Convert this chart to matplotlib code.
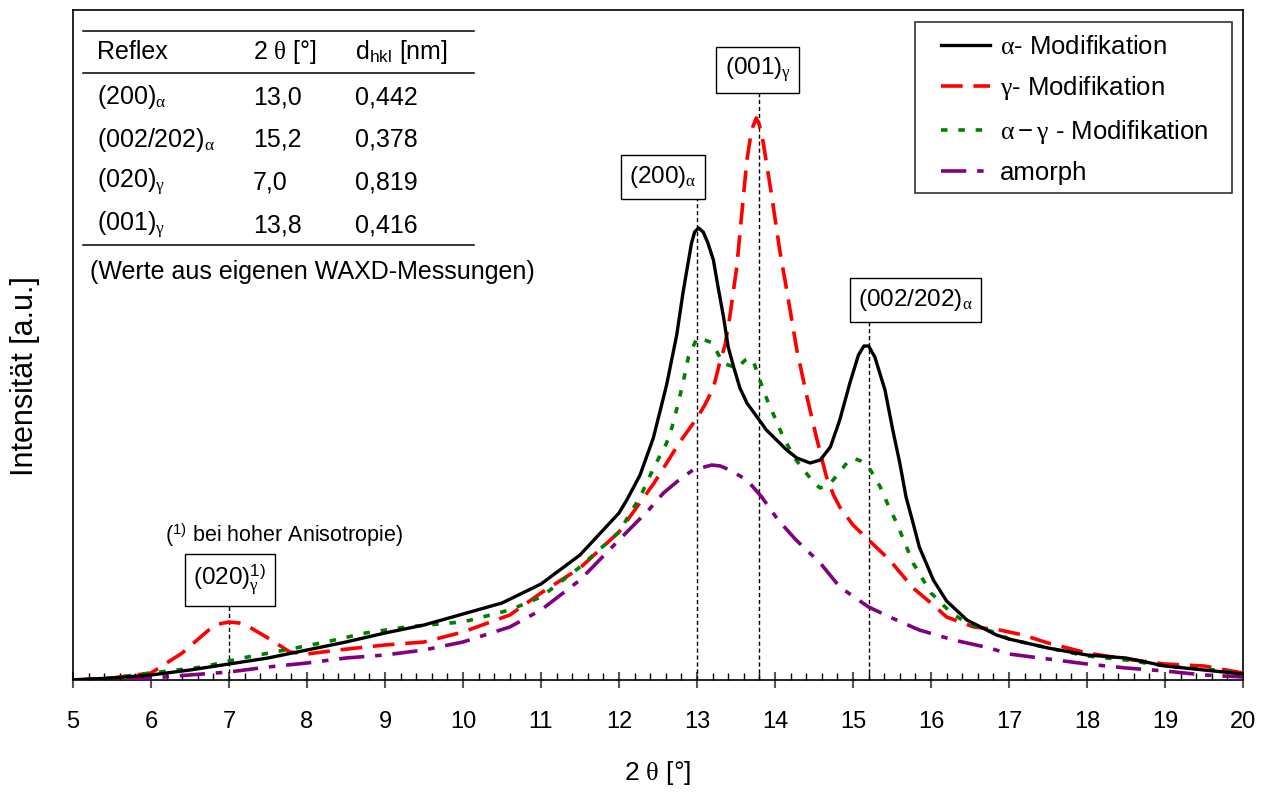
import numpy as np
import matplotlib.pyplot as plt
from matplotlib.ticker import MultipleLocator
from matplotlib.patches import Rectangle

plt.rcParams['font.family'] = ['Liberation Sans', 'DejaVu Sans']
plt.rcParams['mathtext.fontset'] = 'custom'
plt.rcParams['mathtext.rm'] = 'Liberation Sans'
plt.rcParams['mathtext.it'] = 'Liberation Serif'
plt.rcParams['mathtext.default'] = 'it'

# Kurven (2 theta, Intensitaet a.u.)
alpha_x = [5.0, 5.5, 6.0, 6.5, 7.0, 7.5, 8.0, 8.5, 9.0, 9.5, 10.0, 10.5, 11.0, 11.5,
           12.0, 12.1, 12.27, 12.44, 12.61, 12.74, 12.82, 12.87, 12.93, 12.97, 13.02,
           13.08, 13.14, 13.21, 13.27, 13.34, 13.4, 13.47, 13.55, 13.64, 13.77, 13.89,
           14.02, 14.15, 14.28, 14.45, 14.58, 14.71, 14.83, 14.96, 15.07, 15.14, 15.2,
           15.28, 15.41, 15.51, 15.6, 15.68, 15.77, 15.85, 16.03, 16.2, 16.46, 16.84,
           17.0, 17.5, 18.0, 18.5, 19.0, 19.5, 20.0]
alpha_y = [0, 2, 5, 10, 16, 22, 30, 38, 47, 55, 66, 77, 96, 125,
           167, 180, 205, 242, 295, 345, 387, 410, 437, 448, 452,
           448, 437, 420, 393, 363, 333, 313, 292, 277, 263, 250,
           240, 230, 222, 217, 220, 233, 260, 297, 325, 334, 334,
           323, 290, 250, 217, 183, 157, 133, 100, 79, 60, 45,
           41, 32, 25, 22, 14, 10, 6]

gamma_x = [5.0, 5.5, 6.0, 6.4, 6.74, 6.87, 7.0, 7.13, 7.26, 7.5, 7.78, 8.0, 8.4, 9.0,
           9.5, 10.0, 10.6, 11.0, 11.5, 12.0, 12.45, 12.78, 13.0, 13.1, 13.21, 13.29,
           13.36, 13.42, 13.51, 13.57, 13.64, 13.7, 13.76, 13.8, 13.85, 13.96, 14.06,
           14.15, 14.28, 14.41, 14.53, 14.66, 14.75, 14.83, 15.0, 15.2, 15.47, 15.77,
           16.0, 16.2, 16.55, 16.88, 17.18, 17.5, 18.0, 18.5, 19.0, 19.5, 20.0]
gamma_y = [0, 2, 7, 27, 50, 56, 58, 57, 53, 42, 28, 26, 30, 35,
           38, 48, 65, 87, 112, 148, 197, 238, 262, 275, 292, 317,
           335, 363, 413, 463, 520, 550, 562, 555, 537, 483, 430,
           390, 330, 283, 243, 203, 185, 173, 155, 140, 120, 92,
           77, 63, 53, 50, 45, 37, 27, 21, 16, 14, 7]

ag_x = [5.0, 5.5, 6.0, 6.66, 7.17, 7.72, 8.24, 8.75, 9.27, 9.83, 10.0, 10.6, 11.0, 11.5,
        12.0, 12.27, 12.45, 12.61, 12.68, 12.76, 12.82, 12.89, 13.0, 13.1, 13.2, 13.33,
        13.51, 13.62, 13.68, 13.74, 13.79, 13.9, 14.0, 14.11, 14.27, 14.4, 14.5, 14.58,
        14.7, 14.8, 14.93, 15.0, 15.1, 15.2, 15.35, 15.45, 15.56, 15.77, 16.0, 16.26,
        16.5, 16.8, 17.0, 17.5, 18.0, 18.5, 19.0, 19.5, 20.0]
ag_y = [0, 2, 7, 13, 22, 30, 38, 47, 53, 57, 58, 70, 83, 113,
        148, 183, 213, 237, 253, 277, 297, 323, 342, 340, 337, 317,
        312, 320, 322, 315, 303, 280, 262, 242, 220, 207, 197, 192,
        196, 205, 218, 222, 219, 213, 193, 175, 157, 117, 87, 67,
        55, 48, 41, 32, 24, 20, 14, 11, 7]

amorph_x = [5.0, 6.0, 6.66, 7.0, 7.5, 8.0, 8.5, 9.0, 9.5, 10.0, 10.6, 11.0, 11.5, 12.0,
            12.38, 12.57, 12.8, 12.95, 13.19, 13.3, 13.42, 13.64, 13.83, 14.04, 14.27,
            14.58, 14.83, 15.2, 15.47, 15.85, 16.29, 16.75, 17.0, 17.5, 18.0, 18.5, 19.0,
            19.5, 20.0]
amorph_y = [0, 2, 6, 8, 13, 17, 22, 25, 30, 38, 53, 70, 100, 140,
            170, 187, 202, 210, 215, 214, 210, 200, 183, 160, 140,
            117, 93, 73, 63, 50, 40, 32, 26, 21, 16, 12, 9,
            5, 3]

# Tabelle
reflexe = ['(200)$_{\\alpha}$', '(002/202)$_{\\alpha}$', '(020)$_{\\gamma}$', '(001)$_{\\gamma}$']
two_theta = [13.0, 15.2, 7.0, 13.8]
d_hkl = [0.442, 0.378, 0.819, 0.416]

W, H = 1267, 794
fig = plt.figure(figsize=(W / 100, H / 100), dpi=100)
ax = fig.add_axes([73 / W, 1 - 680 / H, 1170 / W, 670 / H])

def px(x, y):
    return x / W, 1 - y / H

ax.plot(alpha_x, alpha_y, color='black', lw=2.4, label='$\\alpha$- Modifikation', zorder=5)
ax.plot(gamma_x, gamma_y, color='#ff0000', lw=2.6, dashes=(6, 3), label='$\\gamma$- Modifikation', zorder=4)
ax.plot(ag_x, ag_y, color='#008000', lw=2.6, dashes=(1.8, 3), label='$\\alpha - \\gamma$ - Modifikation', zorder=4)
ax.plot(amorph_x, amorph_y, color='#800080', lw=2.6, dashes=(7, 3, 1.8, 3), label='amorph', zorder=3)

ax.set_xlim(5, 20)
ax.set_ylim(0, 670)
ax.set_yticks([])
ax.xaxis.set_major_locator(MultipleLocator(1))
ax.xaxis.set_minor_locator(MultipleLocator(0.2))
ax.tick_params(axis='x', which='major', direction='inout', length=12, width=1.5,
               color='#555555', labelsize=17, pad=16)
ax.tick_params(axis='x', which='minor', direction='in', length=5, width=1, color='black')
for s in ax.spines.values():
    s.set_linewidth(1.2)

ax.set_xlabel('2 $\\theta$ [°]', fontsize=19, labelpad=19)
ax.set_ylabel('Intensität [a.u.]', fontsize=22)
ax.yaxis.set_label_coords(-0.028, 0.454)

# Markierung der Reflexe
boxes = {
    '(200)$_{\\alpha}$': (12.56, 503, 481, 13.0),
    '(001)$_{\\gamma}$': (13.78, 610, 587, 13.8),
    '(002/202)$_{\\alpha}$': (15.8, 380, 358, 15.2),
    '(020)$_{\\gamma}^{1)}$': (7.01, 100, 79, 7.0),
}
for txt, (tx, ty, top, pos) in boxes.items():
    ax.plot([pos, pos], [0, top], color='black', lw=1, dashes=(3, 2), zorder=2)
    ax.text(tx, ty, txt, ha='center', va='center', fontsize=17.5, zorder=6,
            bbox=dict(boxstyle='square,pad=0.35', fc='white', ec='black', lw=1))
ax.text(7.7, 145, '($^{1)}$ bei hoher Anisotropie)', ha='center', va='center', fontsize=15.5)

# Tabelle links oben
for yy in (31, 73, 245):
    fig.add_artist(plt.Line2D([83 / W, 474 / W], [1 - yy / H, 1 - yy / H], color='black', lw=1.1))
cols = [97, 253, 355]
fs = 18
fig.text(*px(cols[0], 52), 'Reflex', fontsize=fs, va='center')
fig.text(*px(cols[1], 52), '2 $\\theta$ [°]', fontsize=fs, va='center')
fig.text(*px(cols[2], 52), 'd$_{\\mathrm{hkl}}$ [nm]', fontsize=fs, va='center')
for i, r in enumerate(reflexe):
    yy = 97 + i * 42.7
    fig.text(*px(cols[0], yy), r, fontsize=fs, va='center')
    fig.text(*px(cols[1], yy), f'{two_theta[i]:.1f}'.replace('.', ','), fontsize=fs, va='center')
    fig.text(*px(cols[2], yy), f'{d_hkl[i]:.3f}'.replace('.', ','), fontsize=fs, va='center')
fig.text(*px(90, 272), '(Werte aus eigenen WAXD-Messungen)', fontsize=fs, va='center')

# Legende mit eigenem Rahmen
ax.add_patch(Rectangle(px(915, 193), 317 / W, 171 / H, transform=fig.transFigure,
                       fc='white', ec='#333333', lw=1.2, zorder=8, clip_on=False))
leg = ax.legend(loc='upper left', bbox_to_anchor=px(941, 35),
                bbox_transform=fig.transFigure, fontsize=18.5, frameon=False,
                handlelength=1.9, labelspacing=0.6, borderpad=0, handletextpad=0.4,
                borderaxespad=0)
leg.set_zorder(10)

fig.savefig('out.png', dpi=100)
